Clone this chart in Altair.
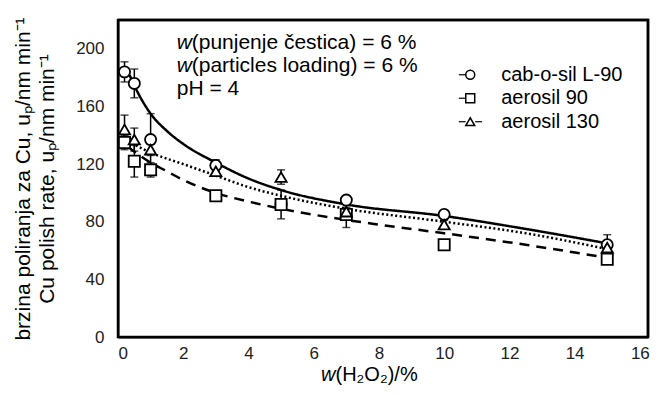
import altair as alt
import pandas as pd

FONT = "Liberation Sans"

series = ["cab-o-sil L-90", "aerosil 90", "aerosil 130"]
shapes = ["circle", "square", "triangle-up"]
dashes = [[1, 0], [10, 7], [2, 2.5]]

h2o2 = [0.2, 0.5, 1, 3, 5, 7, 10, 15]
rate_cab = [184, 176, 137, 119, 92, 95, 85, 64]
err_cab = [7, 10, 18, 4, 3, 3, 3, 7]
rate_a90 = [135, 122, 116, 98, 92, 85, 64, 54]
err_a90 = [5, 11, 5, 3, 10, 9, 3, 3]
rate_a130 = [144, 137, 130, 115, 111, 87, 78, 62]
err_a130 = [10, 8, 4, 3, 5, 3, 3, 3]

fit_cab_x = [0.35, 0.6, 1, 1.5, 2, 3, 4, 5, 7, 10, 12.5, 15]
fit_cab_y = [182, 170, 155, 143, 134, 121, 110, 102, 92, 84, 75, 65]
fit_a90_x = [0.3, 1, 1.5, 2, 3, 4, 5, 6.5, 8, 10, 12.5, 15]
fit_a90_y = [132, 121, 115, 109, 100, 94, 89, 83, 78, 72, 64, 55]
fit_a130_x = [0.3, 1, 2, 3, 4, 5, 7, 10, 12.5, 15]
fit_a130_y = [136, 128, 120, 112, 104, 98, 89, 80, 72, 61]

x_ticks = [0, 2, 4, 6, 8, 10, 12, 14, 16]
y_ticks = [0, 40, 80, 120, 160, 200]
x_domain = [0, 16.25]
y_domain = [0, 220]

ann_italic = ["w", "w", ""]
ann_rest = ["(punjenje čestica) = 6 %", "(particles loading) = 6 %", "pH = 4"]
ann_y = [204, 188, 172]
ann_x = [1.8, 1.8, 1.8]

rows = []
for name, ys, es in [(series[0], rate_cab, err_cab), (series[1], rate_a90, err_a90), (series[2], rate_a130, err_a130)]:
    for x, y, e in zip(h2o2, ys, es):
        rows.append({"x": x, "y": y, "lo": y - e, "hi": y + e, "s": name})
pts = pd.DataFrame(rows)

frows = []
for name, xs, ys in [(series[0], fit_cab_x, fit_cab_y), (series[1], fit_a90_x, fit_a90_y), (series[2], fit_a130_x, fit_a130_y)]:
    for i, (x, y) in enumerate(zip(xs, ys)):
        frows.append({"x": x, "y": y, "fit": name, "o": i})
fits = pd.DataFrame(frows)

ann = pd.DataFrame({"x": ann_x, "y": ann_y, "it": ann_italic, "rest": ann_rest})
ann_w = ann[ann["it"] != ""].reset_index(drop=True)
ann_p = ann[ann["it"] == ""].reset_index(drop=True)

leg = pd.DataFrame({"s": series, "i": list(range(len(series)))})

# plot-area outline: top edge and right edge, as one polyline along the domain limits
border = pd.DataFrame({
    "bx": [x_domain[0], x_domain[1], x_domain[1]],
    "by": [y_domain[1], y_domain[1], y_domain[0]],
    "bo": [0, 1, 2],
})

xs = alt.Scale(domain=x_domain, nice=False, zero=False)
ys = alt.Scale(domain=y_domain, nice=False)
shape_scale = alt.Scale(domain=series, range=shapes)

X = alt.X("x:Q", scale=xs, axis=alt.Axis(values=x_ticks, title=None))
Y = alt.Y("y:Q", scale=ys, axis=alt.Axis(
    values=y_ticks,
    title=["brzina poliranja za Cu, uₚ/nm min⁻¹", "Cu polish rate, uₚ/nm min⁻¹"],
))

lines = alt.Chart(fits).mark_line(interpolate="monotone", color="black", strokeWidth=2.5).encode(
    x=X, y=Y, order="o:Q",
    strokeDash=alt.StrokeDash("fit:N", scale=alt.Scale(domain=series, range=dashes), legend=None),
)

bars = alt.Chart(pts).mark_rule(color="black", strokeWidth=1.5).encode(
    x=alt.X("x:Q", scale=xs), y=alt.Y("lo:Q", scale=ys), y2="hi:Q"
)
cap_lo = alt.Chart(pts).mark_tick(color="black", thickness=1.5, size=8, orient="horizontal").encode(
    x=alt.X("x:Q", scale=xs), y=alt.Y("lo:Q", scale=ys)
)
cap_hi = alt.Chart(pts).mark_tick(color="black", thickness=1.5, size=8, orient="horizontal").encode(
    x=alt.X("x:Q", scale=xs), y=alt.Y("hi:Q", scale=ys)
)

points = alt.Chart(pts).mark_point(fill="white", fillOpacity=1, stroke="black", strokeWidth=1.8, opacity=1, size=125).encode(
    x=X, y=Y,
    shape=alt.Shape("s:N", scale=shape_scale, legend=None),
)

# manual legend (inside the plot, upper right)
leg_base = alt.Chart(leg).transform_calculate(
    ly="182 - datum.i * 16.3", lx="10.8", tx="11.75", a1="10.45", a2="10.66", b1="10.95", b2="11.16"
)
leg_pts = leg_base.mark_point(fill="white", fillOpacity=1, stroke="black", strokeWidth=1.5, opacity=1, size=80).encode(
    x=alt.X("lx:Q", scale=xs), y=alt.Y("ly:Q", scale=ys), shape=alt.Shape("s:N", scale=shape_scale, legend=None)
)
leg_seg = leg_base.mark_rule(color="black", strokeWidth=1.2).encode(
    x=alt.X("a1:Q", scale=xs), x2="a2:Q", y=alt.Y("ly:Q", scale=ys)
)
leg_seg2 = leg_base.transform_filter("datum.i == 2").mark_rule(color="black", strokeWidth=1.2).encode(
    x=alt.X("b1:Q", scale=xs), x2="b2:Q", y=alt.Y("ly:Q", scale=ys)
)
leg_txt = leg_base.mark_text(align="left", baseline="middle", font=FONT, fontSize=20, color="black").encode(
    x=alt.X("tx:Q", scale=xs), y=alt.Y("ly:Q", scale=ys), text="s:N"
)

t_it = alt.Chart(ann_w).mark_text(align="left", baseline="middle", font=FONT, fontSize=21, fontStyle="italic", color="black").encode(
    x=alt.X("x:Q", scale=xs), y=alt.Y("y:Q", scale=ys), text="it:N"
)
t_rest = alt.Chart(ann_w).mark_text(align="left", baseline="middle", font=FONT, fontSize=21, color="black", dx=15).encode(
    x=alt.X("x:Q", scale=xs), y=alt.Y("y:Q", scale=ys), text="rest:N"
)
t_ph = alt.Chart(ann_p).mark_text(align="left", baseline="middle", font=FONT, fontSize=21, color="black").encode(
    x=alt.X("x:Q", scale=xs), y=alt.Y("y:Q", scale=ys), text="rest:N"
)

xt = pd.DataFrame({"a": ["w"], "b": ["(H₂O₂)/%"]})
xt_w = alt.Chart(xt).mark_text(align="left", baseline="middle", font=FONT, fontSize=20, fontStyle="italic", color="black").encode(
    x=alt.value(203), y=alt.value(355), text="a:N"
)
xt_r = alt.Chart(xt).mark_text(align="left", baseline="middle", font=FONT, fontSize=20, color="black", dx=14.5).encode(
    x=alt.value(203), y=alt.value(355), text="b:N"
)

frame = alt.Chart(border).mark_line(color="black", strokeWidth=2.5, clip=False, strokeJoin="miter").encode(
    x=alt.X("bx:Q", scale=xs), y=alt.Y("by:Q", scale=ys), order="bo:Q"
)

chart = alt.layer(
    lines, bars, cap_lo, cap_hi, points,
    leg_seg, leg_seg2, leg_pts, leg_txt,
    t_it, t_rest, t_ph, xt_w, xt_r, frame,
).properties(
    width=530, height=317,
    autosize=alt.AutoSizeParams(type="none"),
    padding={"left": 118, "top": 20, "right": 12, "bottom": 59},
).configure_view(stroke="black", strokeWidth=2.5).configure_axis(
    domainColor="black", domainWidth=2, grid=False, ticks=False,
    labelFont=FONT, labelFontSize=17, labelColor="#222",
    titleFont=FONT, titleFontSize=21, titleFontWeight="normal", titleColor="black",
).configure_axisY(labelPadding=14, titlePadding=18, titleLineHeight=24).configure_axisX(labelPadding=8)

chart.save("out.html", embed_options={"renderer": "svg", "actions": False})
